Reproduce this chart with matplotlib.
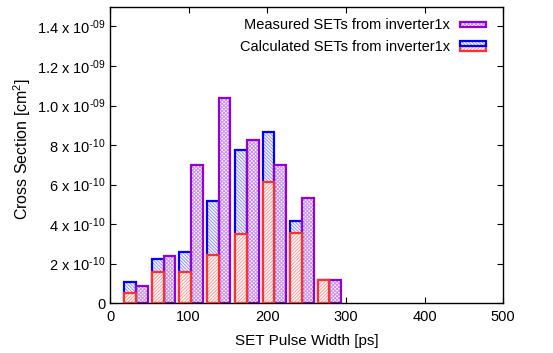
import matplotlib
matplotlib.use('Agg')
import matplotlib.pyplot as plt
from matplotlib.patches import Rectangle
from matplotlib.legend_handler import HandlerBase

# SET pulse width bins [ps] and cross sections [cm^2]
pulse_width = [33, 68, 103, 138, 174, 209, 244, 279]
measured = [0.85e-10, 2.40e-10, 7.00e-10, 10.4e-10, 8.25e-10, 7.00e-10, 5.30e-10, 1.15e-10]
calc_total = [1.08e-10, 2.25e-10, 2.58e-10, 5.15e-10, 7.75e-10, 8.65e-10, 4.15e-10, 1.15e-10]
calc_part = [0.51e-10, 1.60e-10, 1.60e-10, 2.45e-10, 3.50e-10, 6.15e-10, 3.55e-10, 1.15e-10]

ytick_vals = [0, 2e-10, 4e-10, 6e-10, 8e-10, 1.0e-9, 1.2e-9, 1.4e-9]
ytick_text = ['0', r'2 x 10$^{\text{-10}}$', r'4 x 10$^{\text{-10}}$', r'6 x 10$^{\text{-10}}$',
              r'8 x 10$^{\text{-10}}$', r'1.0 x 10$^{\text{-09}}$', r'1.2 x 10$^{\text{-09}}$',
              r'1.4 x 10$^{\text{-09}}$']

plt.rcParams['font.family'] = ['Liberation Sans', 'DejaVu Sans']
plt.rcParams['mathtext.fontset'] = 'custom'
plt.rcParams['mathtext.rm'] = 'Liberation Sans'
plt.rcParams['mathtext.it'] = 'Liberation Sans'
plt.rcParams['hatch.linewidth'] = 0.7

BLUE, BLUE_H = '#0000ff', '#8c8cff'
RED, RED_H = '#ff3030', '#ff9a9a'
PURPLE, PURPLE_H = '#9400d3', '#c890ec'
bw = 15


class BoxHandler(HandlerBase):
    # gnuplot-like key sample: groups of (hatch, outline) patches stacked vertically
    def create_artists(self, legend, orig_handle, xdescent, ydescent,
                       width, height, fontsize, trans):
        h = height / 2
        y0 = -ydescent + (height - h * len(orig_handle)) / 2
        out = []
        for i, group in enumerate(reversed(orig_handle)):
            for p in group:
                r = Rectangle((-xdescent, y0 + i * h), width, h)
                r.update_from(p)
                r.set_transform(trans)
                out.append(r)
        return out


def hatched_bar(ax, x, y, color, hcolor, hatch, z):
    fill = ax.bar(x, y, width=bw, facecolor='white', edgecolor=hcolor,
                  hatch=hatch, linewidth=0, zorder=z)
    edge = ax.bar(x, y, width=bw, fill=False, edgecolor=color,
                  linewidth=1.6, zorder=z + 0.5)
    return fill.patches[0], edge.patches[0]


fig = plt.figure(figsize=(5.53, 3.53), dpi=100)
ax = fig.add_axes([0.199, 0.141, 0.711, 0.840])

x_calc = [p - bw / 2 for p in pulse_width]
x_meas = [p + bw / 2 for p in pulse_width]

h_blue = hatched_bar(ax, x_calc, calc_total, BLUE, BLUE_H, '\\' * 10, 2)
h_red = hatched_bar(ax, x_calc, calc_part, RED, RED_H, '/' * 10, 3)
h_meas = hatched_bar(ax, x_meas, measured, PURPLE, PURPLE_H, 'x' * 9, 2)

ax.set_xlim(0, 500)
ax.set_ylim(0, 1.5e-9)
ax.set_xticks([0, 100, 200, 300, 400, 500])
ax.set_yticks(ytick_vals)
ax.set_yticklabels(ytick_text)
ax.tick_params(direction='in', length=4, width=0.8, top=True, right=True,
               labelsize=10.5)
ax.tick_params(axis='y', pad=3)
ax.tick_params(axis='x', pad=5)
for s in ax.spines.values():
    s.set_linewidth(1.0)

ax.set_xlabel('SET Pulse Width [ps]', fontsize=11, labelpad=7)
ax.set_ylabel(r'Cross Section [cm$^2$]', fontsize=11.5)
ax.yaxis.set_label_coords(-0.195, 0.52)

ax.legend([(h_meas,), (h_blue, h_red)],
          ['Measured SETs from inverter1x', 'Calculated SETs from inverter1x'],
          handler_map={tuple: BoxHandler()},
          loc='upper right', frameon=False, markerfirst=False, fontsize=10.5,
          handlelength=1.75, handletextpad=0.7, labelspacing=0.55,
          borderaxespad=0.4, bbox_to_anchor=(0.985, 1.0))

fig.savefig('out.png', dpi=100)
